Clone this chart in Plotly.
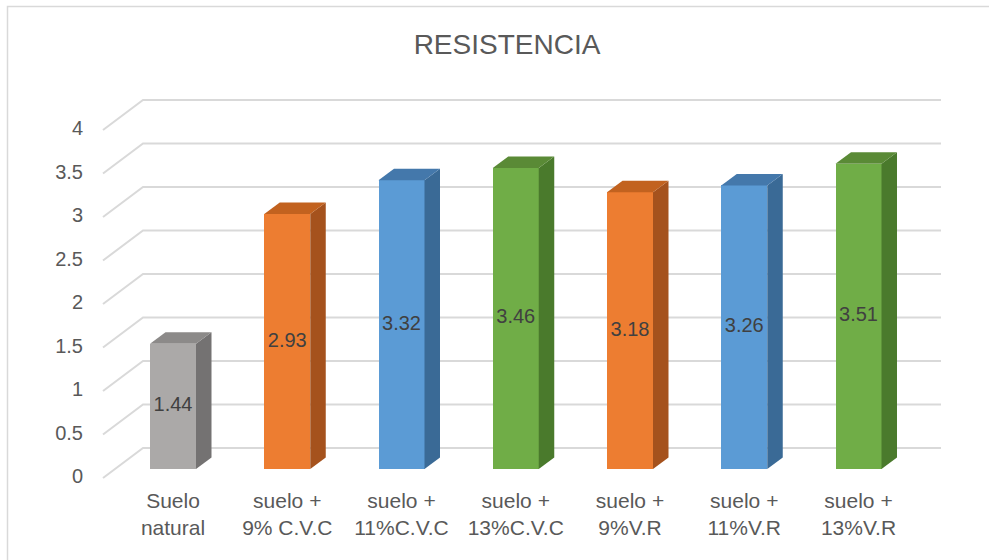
import plotly.graph_objects as go

# ---- data ----
categories = ["Suelo<br>natural", "suelo +<br>9% C.V.C", "suelo +<br>11%C.V.C", "suelo +<br>13%C.V.C",
              "suelo +<br>9%V.R", "suelo +<br>11%V.R", "suelo +<br>13%V.R"]
values = [1.44, 2.93, 3.32, 3.46, 3.18, 3.26, 3.51]
value_labels = ["1.44", "2.93", "3.32", "3.46", "3.18", "3.26", "3.51"]
y_ticks = [0, 0.5, 1, 1.5, 2, 2.5, 3, 3.5, 4]
y_tick_text = ["0", "0.5", "1", "1.5", "2", "2.5", "3", "3.5", "4"]

# ---- styles ----
front_colors = ["#ABA9A8", "#ED7D31", "#5B9BD5", "#70AD47", "#ED7D31", "#5B9BD5", "#70AD47"]
side_colors = ["#747272", "#A5521D", "#3A6A96", "#4A7A2C", "#A5521D", "#3A6A96", "#4A7A2C"]
top_colors = ["#8C8A89", "#C2621F", "#4478AB", "#5A8A36", "#C2621F", "#4478AB", "#5A8A36"]

W, H = 989, 560
ML, MR, MT, MB = 86, 29, 80, 75
PXU = 87.0     # pixels per value unit
X0, XS = 173.0, 114.25
BW = 46 / XS           # bar width (category units)
DX = 15.5 / XS         # depth offset x
DY = 11.5 / PXU        # depth offset y
GRID = "#D9D9D9"

fig = go.Figure()
n = len(values)
xs = list(range(n))

# back-wall gridlines with diagonal on the left (drawn below the bars)
for v in y_ticks:
    yf = v - 9 / PXU
    yb = v + 21 / PXU
    xf = (103 - X0) / XS
    xb = (143 - X0) / XS
    xe = (941 - X0) / XS
    fig.add_shape(type="path", xref="x", yref="y", layer="below",
                  path=f"M {xf} {yf} L {xb} {yb} L {xe} {yb}",
                  line=dict(color=GRID, width=2))

# front faces
fig.add_trace(go.Bar(x=xs, y=values, width=BW, marker=dict(color=front_colors, line=dict(width=0)),
                     showlegend=False, hoverinfo="skip"))

# side and top faces
for i, v in enumerate(values):
    xr = i + BW / 2
    xl = i - BW / 2
    fig.add_trace(go.Scatter(x=[xr, xr + DX, xr + DX, xr, xr], y=[0, DY, v + DY, v, 0],
                             fill="toself", fillcolor=side_colors[i], mode="lines",
                             line=dict(width=0, color=side_colors[i]), hoverinfo="skip", showlegend=False))
    fig.add_trace(go.Scatter(x=[xl, xr, xr + DX, xl + DX, xl], y=[v, v, v + DY, v + DY, v],
                             fill="toself", fillcolor=top_colors[i], mode="lines",
                             line=dict(width=0, color=top_colors[i]), hoverinfo="skip", showlegend=False))

# value labels centred in bars
fig.add_trace(go.Scatter(x=xs, y=[v / 2 for v in values], mode="text", text=value_labels,
                         textfont=dict(family="Liberation Sans, Arial", size=20, color="#404040"),
                         hoverinfo="skip", showlegend=False))

pw = W - ML - MR
ph = H - MT - MB
def px2dx(p):
    return (p - ML) / pw
def py2dy(p):
    return 1 - (p - MT) / ph

fig.add_shape(type="path", xref="x domain", yref="y domain",
              path=f"M {px2dx(7.5)} {py2dy(600)} L {px2dx(7.5)} {py2dy(6.5)} L {px2dx(1000)} {py2dy(6.5)}",
              line=dict(color="#D9D9D9", width=1.5))

fig.update_layout(
    width=W, height=H,
    margin=dict(l=ML, r=MR, t=MT, b=MB),
    paper_bgcolor="white", plot_bgcolor="white",
    title=dict(text="RESISTENCIA", x=507 / W, xanchor="center", y=1 - 44 / H, yanchor="middle",
               font=dict(family="Liberation Sans, Arial", size=28, color="#595959")),
    xaxis=dict(range=[(ML - X0) / XS, (W - MR - X0) / XS], tickmode="array", tickvals=xs,
               ticktext=categories, showgrid=False, zeroline=False, showline=False, ticks="",
               tickfont=dict(family="Liberation Sans, Arial", size=21, color="#595959"),
               ticklabelstandoff=1),
    yaxis=dict(range=[(469 - (H - MB)) / PXU, (469 - MT) / PXU], tickmode="array", tickvals=y_ticks,
               ticktext=y_tick_text, showgrid=False, zeroline=False, showline=False, ticks="",
               tickfont=dict(family="Liberation Sans, Arial", size=20, color="#595959"),
               ticklabelshift=7, ticklabelstandoff=2),
    bargap=0,
)

fig.write_html("out.html")
